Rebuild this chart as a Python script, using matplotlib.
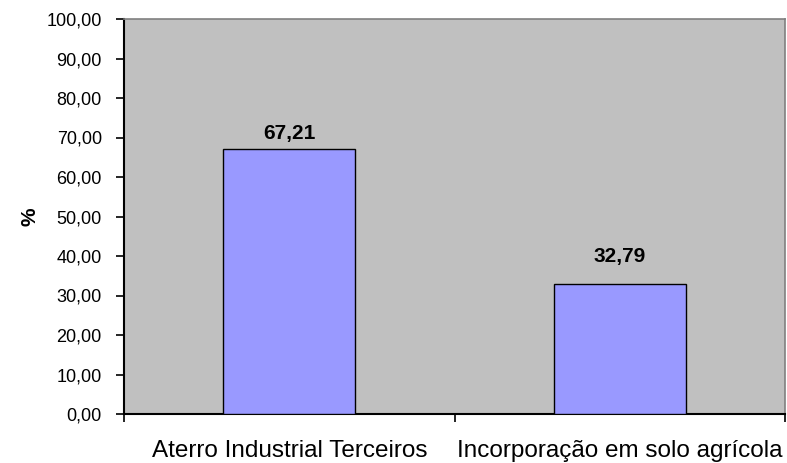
import matplotlib
matplotlib.use("Agg")
import matplotlib.pyplot as plt
from matplotlib.ticker import FuncFormatter, FixedLocator

plt.rcParams['font.family'] = ['Liberation Sans', 'DejaVu Sans']

categories = ["Aterro Industrial Terceiros", "Incorporação em solo agrícola"]
values = [67.21, 32.79]
label_offsets_pt = [11, 20]

fig = plt.figure(figsize=(7.87, 4.63), dpi=100)
ax = fig.add_axes([124/787, 1 - 414/463, (785-124)/787, (414-19)/463])
ax.set_facecolor('#C0C0C0')

x = list(range(len(categories)))
bars = ax.bar(x, values, width=0.4, color='#9999FF', edgecolor='black', linewidth=1.0, zorder=3)

ax.set_xlim(-0.5, len(categories) - 0.5)
ax.set_ylim(0, 100)
ax.yaxis.set_major_locator(FixedLocator([i * 10 for i in range(11)]))
ax.yaxis.set_major_formatter(FuncFormatter(lambda v, p: f"{v:.2f}".replace('.', ',')))

ax.set_xticks([i - 0.5 for i in range(len(categories) + 1)])
ax.set_xticklabels([])
ax.set_xticks(x, minor=True)
ax.set_xticklabels(categories, minor=True, fontsize=17.5)
ax.tick_params(axis='x', which='minor', length=0, pad=19)
ax.tick_params(axis='x', which='major', length=6, width=1.2, direction='out', color='black')
ax.tick_params(axis='y', length=6, width=1.2, direction='out', labelsize=13, pad=10)

for s in ['left', 'bottom']:
    ax.spines[s].set_color('black')
    ax.spines[s].set_linewidth(1.5)
for s in ['top', 'right']:
    ax.spines[s].set_color('#808080')
    ax.spines[s].set_linewidth(1.2)

ax.set_ylabel('%', fontsize=15, fontweight='bold', labelpad=5)

for b, v, off in zip(bars, values, label_offsets_pt):
    ax.annotate(f"{v:.2f}".replace('.', ','), (b.get_x() + b.get_width()/2, v),
                xytext=(0, off), textcoords='offset points', ha='center', va='center',
                fontsize=15, fontweight='bold', zorder=4)

fig.savefig('out.png', dpi=100)
